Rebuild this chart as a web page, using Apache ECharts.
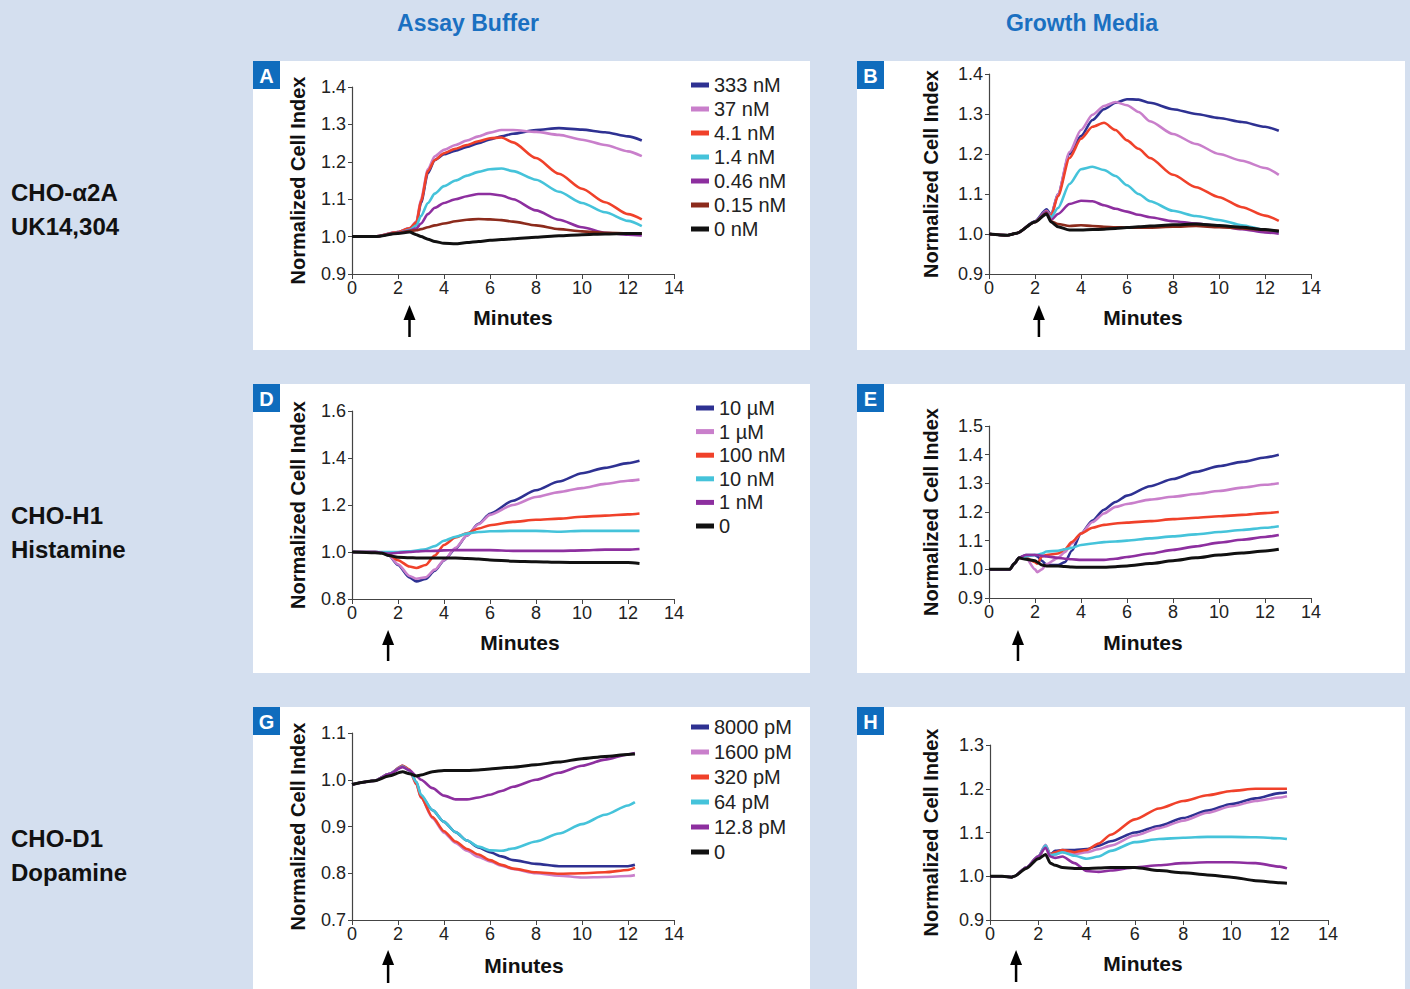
<!DOCTYPE html>
<html><head><meta charset="utf-8">
<script src="https://cdn.jsdelivr.net/npm/echarts@6/dist/echarts.min.js"></script>
<style>
html,body{margin:0;padding:0;background:#d4dfef;width:1410px;height:989px;overflow:hidden;}
.panel{position:absolute;background:#fff;}
#chart{position:absolute;left:0;top:0;width:1410px;height:989px;}
</style></head><body>
<div class="panel" style="left:253px;top:61px;width:557px;height:289px"></div>
<div class="panel" style="left:857px;top:61px;width:548px;height:289px"></div>
<div class="panel" style="left:253px;top:384px;width:557px;height:289px"></div>
<div class="panel" style="left:857px;top:384px;width:548px;height:289px"></div>
<div class="panel" style="left:253px;top:707px;width:557px;height:282px"></div>
<div class="panel" style="left:857px;top:707px;width:548px;height:282px"></div>
<div id="chart"></div>
<script>
// ---------- Data ----------
const concAB = ['333 nM', '37 nM', '4.1 nM', '1.4 nM', '0.46 nM', '0.15 nM', '0 nM'];
const concDE = ['10 \u00b5M', '1 \u00b5M', '100 nM', '10 nM', '1 nM', '0'];
const concGH = ['8000 pM', '1600 pM', '320 pM', '64 pM', '12.8 pM', '0'];

// Panel A (Assay Buffer, CHO-a2A)
const timeA = [0, 1, 2, 2.5, 2.8, 3, 3.3, 3.6, 4, 4.5, 5, 5.5, 6, 6.5, 7, 8, 9, 10, 11, 12, 12.6];
const a333 = [1.0, 1.0, 1.012, 1.022, 1.035, 1.09, 1.17, 1.205, 1.22, 1.23, 1.24, 1.25, 1.26, 1.268, 1.275, 1.285, 1.29, 1.286, 1.279, 1.268, 1.257];
const a37 = [1.0, 1.0, 1.012, 1.022, 1.04, 1.1, 1.18, 1.215, 1.232, 1.245, 1.257, 1.268, 1.278, 1.285, 1.285, 1.28, 1.272, 1.259, 1.245, 1.228, 1.215];
const a4 = [1.0, 1.0, 1.012, 1.022, 1.038, 1.095, 1.175, 1.205, 1.223, 1.235, 1.245, 1.255, 1.263, 1.265, 1.252, 1.21, 1.168, 1.128, 1.092, 1.06, 1.046];
const a14 = [1.0, 1.0, 1.01, 1.018, 1.03, 1.055, 1.09, 1.115, 1.135, 1.15, 1.163, 1.173, 1.18, 1.182, 1.175, 1.152, 1.12, 1.09, 1.065, 1.042, 1.028];
const a046 = [1.0, 1.0, 1.01, 1.016, 1.022, 1.035, 1.06, 1.077, 1.09, 1.1, 1.108, 1.114, 1.114, 1.11, 1.1, 1.07, 1.045, 1.025, 1.01, 1.005, 1.003];
const a015 = [1.0, 1.0, 1.01, 1.015, 1.017, 1.02, 1.025, 1.03, 1.035, 1.041, 1.045, 1.047, 1.046, 1.044, 1.04, 1.03, 1.02, 1.014, 1.01, 1.009, 1.008];
const a0 = [1.0, 1.0, 1.008, 1.012, 1.005, 1.0, 0.993, 0.987, 0.982, 0.981, 0.984, 0.987, 0.99, 0.992, 0.994, 0.998, 1.002, 1.005, 1.007, 1.008, 1.008];

// Panel B (Growth Media, CHO-a2A)
const timeB = [0, 0.8, 1.2, 2, 2.5, 2.7, 3, 3.5, 4, 4.5, 5, 5.5, 6, 6.5, 7, 8, 9, 10, 11, 12, 12.6];
const b333 = [1.0, 0.997, 1.002, 1.032, 1.062, 1.048, 1.1, 1.2, 1.245, 1.285, 1.312, 1.328, 1.337, 1.336, 1.328, 1.312, 1.3, 1.29, 1.28, 1.268, 1.258];
const b37 = [1.0, 0.997, 1.002, 1.03, 1.058, 1.046, 1.1, 1.205, 1.26, 1.298, 1.32, 1.33, 1.322, 1.305, 1.282, 1.25, 1.225, 1.2, 1.183, 1.165, 1.148];
const b4 = [1.0, 0.997, 1.002, 1.03, 1.056, 1.045, 1.095, 1.19, 1.238, 1.268, 1.278, 1.26, 1.234, 1.213, 1.19, 1.148, 1.117, 1.092, 1.067, 1.046, 1.033];
const b14 = [1.0, 0.997, 1.002, 1.03, 1.055, 1.042, 1.065, 1.125, 1.162, 1.168, 1.16, 1.145, 1.122, 1.1, 1.082, 1.058, 1.045, 1.035, 1.022, 1.01, 1.005];
const b046 = [1.0, 0.997, 1.002, 1.03, 1.055, 1.035, 1.05, 1.075, 1.083, 1.082, 1.072, 1.063, 1.056, 1.048, 1.042, 1.032, 1.026, 1.02, 1.012, 1.004, 1.001];
const b015 = [1.0, 0.997, 1.002, 1.03, 1.052, 1.032, 1.025, 1.02, 1.022, 1.02, 1.018, 1.017, 1.016, 1.016, 1.016, 1.018, 1.02, 1.017, 1.014, 1.01, 1.008];
const b0 = [1.0, 0.997, 1.002, 1.03, 1.05, 1.03, 1.018, 1.01, 1.01, 1.011, 1.012, 1.014, 1.016, 1.018, 1.02, 1.023, 1.025, 1.021, 1.017, 1.011, 1.007];

// Panel D (Assay Buffer, CHO-H1)
const timeD = [0, 1, 1.3, 1.6, 2, 2.5, 2.8, 3.2, 3.6, 4, 4.5, 5, 5.5, 6, 7, 8, 9, 10, 11, 12, 12.5];
const d10u = [1.0, 1.0, 0.997, 0.985, 0.945, 0.892, 0.875, 0.885, 0.92, 0.964, 1.014, 1.07, 1.12, 1.163, 1.218, 1.263, 1.3, 1.335, 1.358, 1.378, 1.388];
const d1u = [1.0, 1.0, 0.997, 0.986, 0.948, 0.898, 0.886, 0.892, 0.925, 0.965, 1.018, 1.07, 1.118, 1.158, 1.2, 1.234, 1.255, 1.272, 1.29, 1.303, 1.308];
const d100n = [1.0, 1.0, 0.997, 0.99, 0.965, 0.938, 0.932, 0.945, 0.985, 1.03, 1.062, 1.08, 1.1, 1.114, 1.128, 1.137, 1.142, 1.15, 1.155, 1.16, 1.164];
const d10n = [1.0, 1.0, 1.0, 1.0, 1.0, 1.003, 1.006, 1.012, 1.025, 1.048, 1.065, 1.078, 1.085, 1.088, 1.09, 1.09, 1.086, 1.09, 1.09, 1.09, 1.09];
const d1n = [1.0, 1.0, 0.997, 0.993, 0.997, 1.0, 1.002, 1.004, 1.005, 1.007, 1.008, 1.008, 1.008, 1.008, 1.005, 1.005, 1.005, 1.007, 1.01, 1.01, 1.013];
const d0 = [1.0, 0.997, 0.995, 0.985, 0.978, 0.976, 0.975, 0.975, 0.975, 0.975, 0.974, 0.972, 0.97, 0.966, 0.961, 0.959, 0.956, 0.955, 0.955, 0.955, 0.951];

// Panel E (Growth Media, CHO-H1)
const timeE = [0, 0.9, 1.1, 1.3, 1.6, 2, 2.1, 2.3, 2.5, 3, 3.3, 3.6, 4, 4.5, 5, 5.5, 6, 7, 8, 9, 10, 11, 12, 12.6];
const e10u = [1.0, 1.0, 1.02, 1.04, 1.05, 1.05, 1.045, 1.03, 1.015, 1.015, 1.025, 1.065, 1.125, 1.17, 1.208, 1.235, 1.257, 1.29, 1.315, 1.34, 1.36, 1.375, 1.39, 1.4];
const e1u = [1.0, 1.0, 1.02, 1.04, 1.04, 1.0, 0.99, 1.0, 1.018, 1.04, 1.06, 1.09, 1.125, 1.165, 1.195, 1.218, 1.228, 1.243, 1.253, 1.263, 1.273, 1.285, 1.295, 1.3];
const e100n = [1.0, 1.0, 1.02, 1.04, 1.04, 1.025, 1.02, 1.045, 1.05, 1.055, 1.07, 1.095, 1.125, 1.145, 1.155, 1.16, 1.163, 1.168, 1.175, 1.18, 1.185, 1.19, 1.196, 1.2];
const e10n = [1.0, 1.0, 1.02, 1.04, 1.045, 1.05, 1.05, 1.055, 1.062, 1.065, 1.07, 1.075, 1.085, 1.09, 1.095, 1.097, 1.1, 1.108, 1.115, 1.122, 1.13, 1.137, 1.145, 1.15];
const e1n = [1.0, 1.0, 1.02, 1.04, 1.05, 1.05, 1.05, 1.047, 1.045, 1.04, 1.037, 1.035, 1.033, 1.033, 1.033, 1.037, 1.043, 1.055, 1.068, 1.08, 1.093, 1.103, 1.113, 1.12];
const e0 = [1.0, 1.0, 1.02, 1.04, 1.035, 1.03, 1.025, 1.015, 1.012, 1.012, 1.01, 1.008, 1.007, 1.007, 1.007, 1.009, 1.012, 1.02, 1.03, 1.04, 1.05, 1.057, 1.064, 1.07];

// Panel G (Assay Buffer, CHO-D1)
const timeG = [0, 1, 1.6, 2.2, 2.5, 2.8, 3, 3.5, 4, 4.5, 5, 5.5, 6, 6.5, 7, 8, 9, 10, 11, 12, 12.3];
const g8000 = [0.99, 0.998, 1.012, 1.03, 1.02, 0.995, 0.965, 0.935, 0.91, 0.888, 0.87, 0.855, 0.845, 0.836, 0.828, 0.82, 0.815, 0.815, 0.815, 0.815, 0.818];
const g1600 = [0.99, 0.998, 1.012, 1.03, 1.02, 0.99, 0.962, 0.918, 0.887, 0.865, 0.848, 0.835, 0.825, 0.816, 0.809, 0.8, 0.795, 0.791, 0.792, 0.794, 0.796];
const g320 = [0.99, 0.998, 1.012, 1.03, 1.022, 0.99, 0.962, 0.92, 0.89, 0.868, 0.852, 0.84, 0.828, 0.818, 0.81, 0.802, 0.799, 0.8, 0.802, 0.807, 0.812];
const g64 = [0.99, 0.998, 1.012, 1.028, 1.02, 0.995, 0.968, 0.935, 0.91, 0.888, 0.87, 0.857, 0.849, 0.848, 0.853, 0.868, 0.885, 0.905, 0.925, 0.945, 0.952];
const g12 = [0.99, 0.998, 1.012, 1.027, 1.02, 1.008, 1.0, 0.982, 0.966, 0.958, 0.958, 0.962, 0.968, 0.976, 0.985, 1.0, 1.015, 1.03, 1.043, 1.054, 1.057];
const g0 = [0.99, 0.998, 1.008, 1.017, 1.013, 1.008, 1.01, 1.017, 1.02, 1.02, 1.02, 1.021, 1.023, 1.025, 1.027, 1.032, 1.038, 1.045, 1.05, 1.054, 1.055];

// Panel H (Growth Media, CHO-D1)
const timeH = [0, 0.5, 0.9, 1.0, 1.5, 2, 2.3, 2.5, 2.7, 3, 3.5, 4, 4.5, 5, 6, 7, 8, 9, 10, 11, 12, 12.3];
const h8000 = [1.0, 1.0, 0.998, 1.0, 1.02, 1.045, 1.07, 1.05, 1.058, 1.06, 1.06, 1.062, 1.07, 1.08, 1.1, 1.115, 1.133, 1.15, 1.165, 1.178, 1.19, 1.192];
const h1600 = [1.0, 1.0, 0.998, 1.0, 1.02, 1.045, 1.072, 1.048, 1.05, 1.055, 1.05, 1.055, 1.062, 1.07, 1.093, 1.11, 1.127, 1.145, 1.16, 1.172, 1.18, 1.183];
const h320 = [1.0, 1.0, 0.998, 1.0, 1.02, 1.045, 1.068, 1.05, 1.055, 1.06, 1.055, 1.06, 1.075, 1.095, 1.13, 1.155, 1.172, 1.185, 1.195, 1.2, 1.2, 1.2];
const h64 = [1.0, 1.0, 0.998, 1.0, 1.02, 1.045, 1.07, 1.048, 1.05, 1.055, 1.047, 1.04, 1.045, 1.058, 1.078, 1.085, 1.088, 1.09, 1.09, 1.089, 1.087, 1.085];
const h12 = [1.0, 1.0, 0.998, 1.0, 1.02, 1.045, 1.065, 1.045, 1.042, 1.045, 1.03, 1.012, 1.01, 1.013, 1.02, 1.025, 1.03, 1.032, 1.032, 1.03, 1.022, 1.018];
const h0 = [1.0, 1.0, 0.998, 1.0, 1.018, 1.04, 1.05, 1.03, 1.025, 1.02, 1.018, 1.018, 1.019, 1.02, 1.02, 1.013, 1.008, 1.003, 0.998, 0.99, 0.985, 0.984];

// y axis ranges per panel [min, max, step]
const yRanges = [[0.9, 1.4, 0.1], [0.9, 1.4, 0.1], [0.8, 1.6, 0.2], [0.9, 1.5, 0.1], [0.7, 1.1, 0.1], [0.9, 1.3, 0.1]];
const xTicks = [0, 14, 2];
// addition time (arrows), minutes
const arrowTimes = [2.5, 2.17, 1.57, 1.26, 1.57, 1.08];

// ---------- Styling ----------
const FONT = "'Liberation Sans', Arial, Helvetica, sans-serif";
const C7 = ['#2e3192', '#c97fcb', '#f0412a', '#45c3da', '#8d2f9f', '#8c2b1c', '#111111'];
const C6 = ['#2e3192', '#c97fcb', '#f0412a', '#45c3da', '#8d2f9f', '#111111'];

const panels = [
  {t: timeA, names: concAB, vals: [a333, a37, a4, a14, a046, a015, a0], colors: C7},
  {t: timeB, names: concAB, vals: [b333, b37, b4, b14, b046, b015, b0], colors: C7},
  {t: timeD, names: concDE, vals: [d10u, d1u, d100n, d10n, d1n, d0], colors: C6},
  {t: timeE, names: concDE, vals: [e10u, e1u, e100n, e10n, e1n, e0], colors: C6},
  {t: timeG, names: concGH, vals: [g8000, g1600, g320, g64, g12, g0], colors: C6},
  {t: timeH, names: concGH, vals: [h8000, h1600, h320, h64, h12, h0], colors: C6}
];
const grids = [
  {left: 352, top: 87, width: 322, height: 187},
  {left: 989, top: 74, width: 322, height: 200},
  {left: 352, top: 411, width: 322, height: 188},
  {left: 989, top: 426, width: 322, height: 172},
  {left: 352, top: 733, width: 322, height: 187},
  {left: 990, top: 745, width: 338, height: 175}
];
const nameGaps = [44, 48, 44, 48, 44, 49];

const axisLine = {show: true, lineStyle: {color: '#444', width: 1.2}};
const xAxes = grids.map((g, i) => ({
  gridIndex: i, type: 'value', min: xTicks[0], max: xTicks[1], interval: xTicks[2],
  axisLine, axisTick: {show: true, length: 5, lineStyle: {color: '#444'}},
  axisLabel: {color: '#222', fontSize: 18, fontFamily: FONT, margin: 5},
  splitLine: {show: false}
}));
const yAxes = grids.map((g, i) => ({
  gridIndex: i, type: 'value', min: yRanges[i][0], max: yRanges[i][1], interval: yRanges[i][2],
  name: 'Normalized Cell Index', nameLocation: 'middle', nameGap: nameGaps[i],
  nameTextStyle: {fontSize: 20, fontWeight: 'bold', color: '#111', fontFamily: FONT},
  axisLine, axisTick: {show: true, length: 4, lineStyle: {color: '#444'}},
  axisLabel: {color: '#222', fontSize: 18, fontFamily: FONT, margin: 6, formatter: v => v.toFixed(1)},
  splitLine: {show: false}
}));

const series = [];
panels.forEach((p, i) => {
  p.vals.forEach((v, k) => {
    series.push({
      type: 'line', name: p.names[k], xAxisIndex: i, yAxisIndex: i,
      data: p.t.map((x, j) => [x, v[j]]),
      showSymbol: false, smooth: 0.25, smoothMonotone: 'x',
      lineStyle: {width: k === p.vals.length - 1 ? 3 : 2.6, color: p.colors[k]},
      itemStyle: {color: p.colors[k]}, z: 2 + k, animation: false
    });
  });
});

function mkLegend(names, left, top, gap) {
  return {
    data: names, left, top, orient: 'vertical', icon: 'rect', itemWidth: 18, itemHeight: 5,
    itemGap: gap, selectedMode: false,
    textStyle: {fontSize: 20, color: '#222', fontFamily: FONT, lineHeight: 20}
  };
}

const chart = echarts.init(document.getElementById('chart'), null, {renderer: 'svg'});
chart.setOption({
  animation: false,
  backgroundColor: 'transparent',
  grid: grids.map(g => Object.assign({containLabel: false}, g)),
  xAxis: xAxes, yAxis: yAxes,
  legend: [mkLegend(concAB, 686, 70, 4), mkLegend(concDE, 691, 393, 3.6), mkLegend(concGH, 686, 712, 5)],
  series
});

// ---------- Annotations ----------
const els = [];
function txt(text, x, y, opts) {
  els.push({type: 'text', x, y, style: Object.assign({text, fontFamily: FONT, fill: '#111', align: 'left', verticalAlign: 'middle'}, opts)});
}
txt('Assay Buffer', 468, 23, {align: 'center', fontSize: 23, fontWeight: 'bold', fill: '#1a70c1'});
txt('Growth Media', 1082, 23, {align: 'center', fontSize: 23, fontWeight: 'bold', fill: '#1a70c1'});
const rowLabels = [['CHO-\u03b12A', 192], ['UK14,304', 226], ['CHO-H1', 515], ['Histamine', 549], ['CHO-D1', 838], ['Dopamine', 872]];
rowLabels.forEach(r => txt(r[0], 11, r[1], {fontSize: 24, fontWeight: 'bold'}));

const letters = [['A', 253, 61], ['B', 857, 61], ['D', 253, 384], ['E', 857, 384], ['G', 253, 707], ['H', 857, 707]];
letters.forEach(l => {
  els.push({type: 'rect', shape: {x: l[1], y: l[2], width: 27, height: 28}, style: {fill: '#0f6cbd'}});
  txt(l[0], l[1] + 13.5, l[2] + 14.5, {align: 'center', fontSize: 20, fontWeight: 'bold', fill: '#fff'});
});

const minutesPos = [[513, 317], [1143, 317], [520, 642], [1143, 642], [524, 965], [1143, 963]];
minutesPos.forEach(m => txt('Minutes', m[0], m[1], {align: 'center', fontSize: 21, fontWeight: 'bold'}));

const arrowY = [[305, 337], [305, 337], [630, 661], [630, 661], [950, 983], [950, 982]];
arrowTimes.forEach((t, i) => {
  const px = chart.convertToPixel({gridIndex: i}, [t, yRanges[i][0]])[0];
  const tip = arrowY[i][0], bot = arrowY[i][1];
  els.push({type: 'line', shape: {x1: px, y1: tip + 12, x2: px, y2: bot}, style: {stroke: '#000', lineWidth: 2.5}});
  els.push({type: 'polygon', shape: {points: [[px - 6, tip + 15], [px + 6, tip + 15], [px, tip]]}, style: {fill: '#000'}});
});

chart.setOption({graphic: [{elements: els}]});
</script>
</body></html>
